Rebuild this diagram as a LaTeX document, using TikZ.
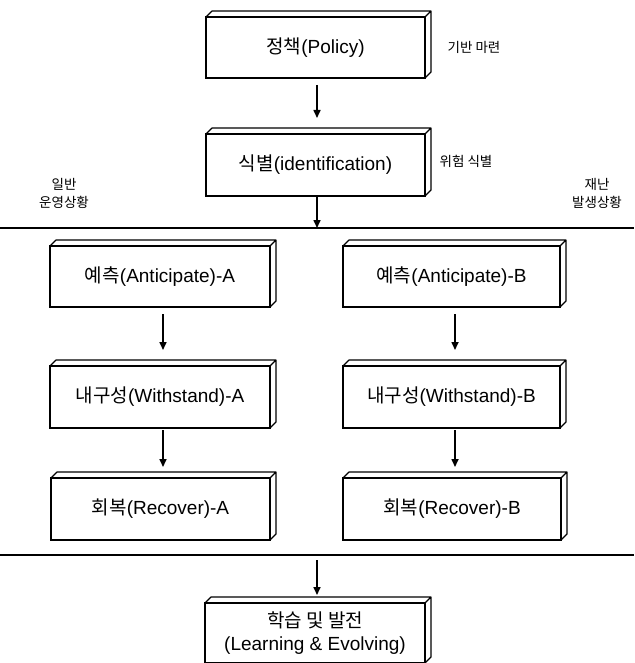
\documentclass[tikz,border=0pt]{standalone}
\usepackage{fontspec}
\setmainfont{Liberation Sans}
\newfontfamily\kr{Noto Sans CJK KR}
\usetikzlibrary{arrows.meta}
\tikzset{
  box/.style={draw=black, line width=1.2pt, fill=white, inner sep=0pt, outer sep=0pt,
    align=center, font=\fontsize{19}{23}\selectfont},
  side/.style={font=\kr\fontsize{13.5}{18}\selectfont, align=center, inner sep=0pt},
  flow/.style={line width=1.6pt, -{Triangle[length=8pt,width=7pt]}},
  sep/.style={line width=1.8pt},
  depth/.style={line width=1.2pt, line join=round}
}
\newcommand{\depthbox}[1]{\draw[depth] (#1.north west) -- ++(6,-6) -| ([shift={(6,-6)}]#1.south east) -- (#1.south east) (#1.north east) -- ++(6,-6);}
\begin{document}
\begin{tikzpicture}[x=1pt,y=-1pt]
\useasboundingbox (0,0) rectangle (634,663);
% boxes
\node[box, minimum width=219pt, minimum height=61pt] (pol) at (315.5,47.5) {{\kr 정책}(Policy)};
\node[box, minimum width=219pt, minimum height=62pt] (idf) at (315.5,165) {{\kr 식별}(identification)};
\node[box, minimum width=220pt, minimum height=61pt] (antA) at (160,276.5) {{\kr 예측}(Anticipate)-A};
\node[box, minimum width=217pt, minimum height=61pt] (antB) at (451.5,276.5) {{\kr 예측}(Anticipate)-B};
\node[box, minimum width=220pt, minimum height=62pt] (witA) at (160,397) {{\kr 내구성}(Withstand)-A};
\node[box, minimum width=217pt, minimum height=62pt] (witB) at (451.5,397) {{\kr 내구성}(Withstand)-B};
\node[box, minimum width=219pt, minimum height=62pt] (recA) at (160.5,509) {{\kr 회복}(Recover)-A};
\node[box, minimum width=218pt, minimum height=62pt] (recB) at (452,509) {{\kr 회복}(Recover)-B};
\node[box, minimum width=220pt, minimum height=60pt] (lrn) at (315,633) {{\kr 학습 및 발전}\\(Learning \& Evolving)};
\foreach \n in {pol,idf,antA,antB,witA,witB,recA,recB,lrn} {\depthbox{\n}}
% side labels
\node[side] (t1) at (474,47) {기반 마련};
\node[side] (t2) at (466,161) {위험 식별};
\node[side] (t3) at (64,193) {일반\\운영상황};
\node[side] (t4) at (597,193) {재난\\발생상황};
% separator lines
\coordinate (l1w) at (0,228); \coordinate (l1e) at (634,228);
\coordinate (l2w) at (0,555); \coordinate (l2e) at (634,555);
\draw[sep] (l1w) -- (l1e);
\draw[sep] (l2w) -- (l2e);
\coordinate (l1) at (317,228);
\coordinate (l2) at (317,560);
% arrows
\draw[flow] ([yshift=-7pt]pol.south) ++(1.5,0) -- ++(0,33);
\draw[flow] (idf.south -| l1) -- (l1);
\draw[flow] ([yshift=-7pt]antA.south) ++(3,0) -- ++(0,36);
\draw[flow] ([yshift=-7pt]antB.south) ++(3.5,0) -- ++(0,36);
\draw[flow] ([yshift=-2pt]witA.south) ++(3,0) -- ++(0,37);
\draw[flow] ([yshift=-2pt]witB.south) ++(3.5,0) -- ++(0,37);
\draw[flow] (l2) -- ([yshift=8pt]lrn.north -| l2);
\end{tikzpicture}
\end{document}
